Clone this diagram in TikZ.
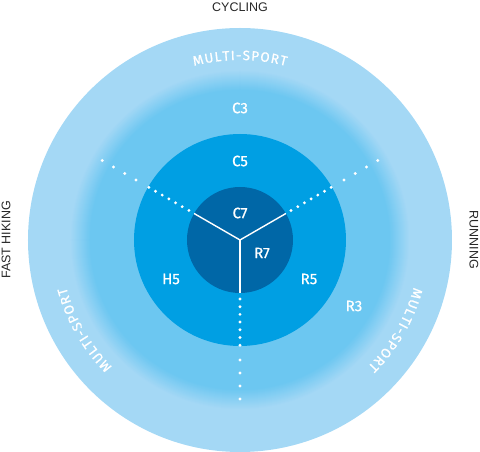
\documentclass[tikz,border=0pt]{standalone}
\usepackage{fontspec}
\usetikzlibrary{decorations.text}
\newfontfamily\zonefont{Fira Sans}[FakeBold=0.7]
\newfontfamily\sportfont{Liberation Sans}
\definecolor{ringouter}{HTML}{A4D8F5}
\definecolor{ringmid}{HTML}{6CC7F1}
\definecolor{ringinner}{HTML}{009FE3}
\definecolor{ringcore}{HTML}{0067A7}
\tikzset{
  zone/.style={text=white,font=\zonefont\fontsize{15}{15}\selectfont},
  sport/.style={text=black!85,font=\sportfont\fontsize{12.5}{12.5}\selectfont},
  spoke/.style={draw=white,line width=1.4pt},
  dotmark/.style={fill=white},
  multisport/.style={decorate,decoration={text along path,text align={fit to path},
    text color=white,text={|\zonefont\fontsize{13.5}{13.5}\selectfont|MULTI-SPORT}}}
}

\begin{document}
\begin{tikzpicture}[x=1pt,y=1pt]
  	\useasboundingbox (-240,-212) rectangle (240,240);
  	\fill[ringouter] (0,0) circle (212);
  	\foreach \i [evaluate=\i as \pct using int(\i*100/20)] in {0,...,20}
  		\fill[ringmid!\pct!ringouter] (0,0) circle (170-\i);
  	\fill[ringinner] (0,0) circle (106);
  	\fill[ringcore] (0,0) circle (53);

  	\node[inner sep=0] (ctr) at (0,0) {};
  	\coordinate (ecyc) at (150:53);
  	\coordinate (erun) at (30:53);
  	\coordinate (ehik) at (270:53);
  	\draw[spoke] (ctr.center) -- (ecyc);
  	\draw[spoke] (ctr.center) -- (erun);
  	\draw[spoke] (ctr.center) -- (ehik);
  	\foreach \a in {30,150,270} {
  		\foreach \r in {59,66.7,...,106} \fill[dotmark] (\a:\r) circle (1.6);
  		\foreach \r in {120,133,146,159} \fill[dotmark] (\a:\r) circle (1.6);
  	}

  	\node[zone] (c7) at (0,27) {C7};
  	\node[zone] (r7) at (22,-13) {R7};
  	\node[zone] (c5) at (0,79) {C5};
  	\node[zone] (h5) at (-69,-39) {H5};
  	\node[zone] (r5) at (69,-39) {R5};
  	\node[zone] (c3) at (0,132) {C3};
  	\node[zone] (r3) at (114,-66) {R3};

  	\path[multisport] (104.8:180) arc[start angle=104.8,end angle=75.2,radius=180];
  	\path[multisport] (224.8:180) arc[start angle=224.8,end angle=195.2,radius=180];
  	\path[multisport] (344.8:180) arc[start angle=344.8,end angle=315.2,radius=180];

  	\node[sport] (cycling) at (0,233) {CYCLING};
  	\node[sport,rotate=90] (hiking) at (-234,0) {FAST HIKING};
  	\node[sport,rotate=-90] (running) at (234,0) {RUNNING};
\end{tikzpicture}
\end{document}
